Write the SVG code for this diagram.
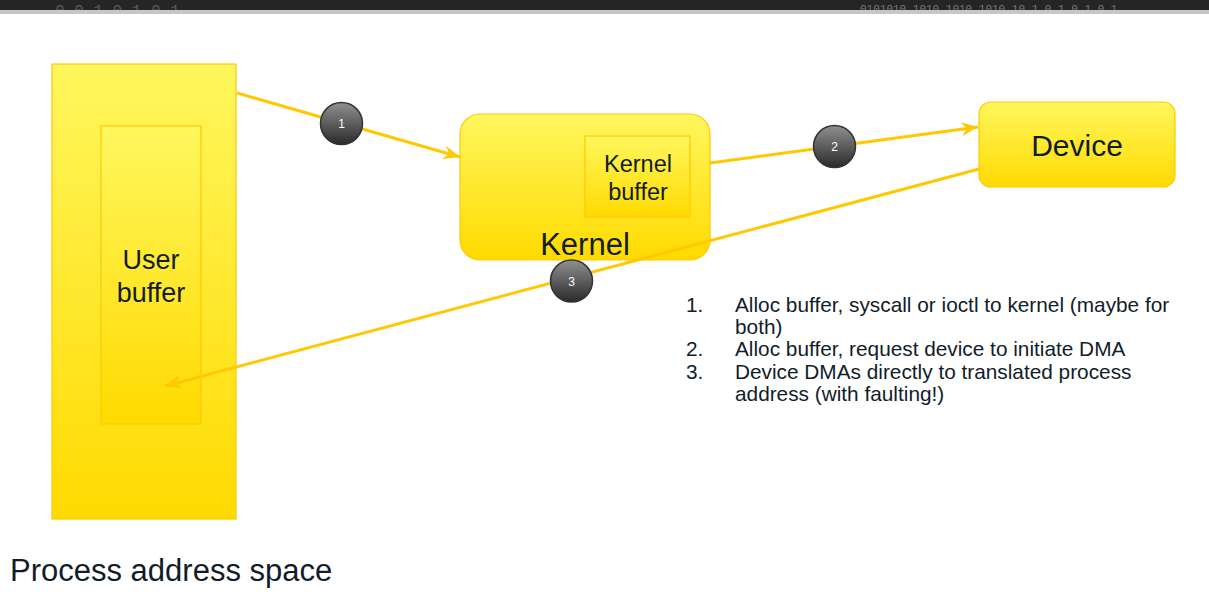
<svg xmlns="http://www.w3.org/2000/svg" width="1209" height="597" viewBox="0 0 1209 597">
  <defs>
    <linearGradient id="yel" x1="0" y1="0" x2="0" y2="1">
      <stop offset="0" stop-color="#FFF75E"/>
      <stop offset="1" stop-color="#FFDA00"/>
    </linearGradient>
    <linearGradient id="ball" x1="0" y1="0" x2="0" y2="1">
      <stop offset="0" stop-color="#909090"/>
      <stop offset="1" stop-color="#2A2A2A"/>
    </linearGradient>
    <marker id="arr" viewBox="0 0 12 10" refX="12" refY="5" markerWidth="18" markerHeight="14" markerUnits="userSpaceOnUse" orient="auto">
      <path d="M0,0 L12,5 L0,10 L4,5 Z" fill="#FFC800"/>
    </marker>
    <clipPath id="barclip"><rect x="0" y="0" width="1209" height="10"/></clipPath>
    <style>
      .box { fill: url(#yel); stroke: #FFC800; stroke-width: 1.2; }
      .lbl { font-family: "Liberation Sans", Arial, sans-serif; fill: #111D2A; text-anchor: middle; }
      .wire { stroke: #FFC800; stroke-width: 3; fill: none; marker-end: url(#arr); }
      .ball { fill: url(#ball); stroke: #333333; stroke-width: 1.5; }
      .num { font-family: "Liberation Sans", Arial, sans-serif; font-size: 12px; fill: #FFFFFF; text-anchor: middle; }
      .list { font-family: "Liberation Sans", Arial, sans-serif; font-size: 20.8px; fill: #111D2A; }
    </style>
  </defs>

  <rect x="0" y="0" width="1209" height="597" fill="#FFFFFF"/>

  <g id="header">
    <rect x="0" y="0" width="1209" height="10" fill="#252525"/>
    <rect x="0" y="10" width="1209" height="4" fill="#C6C6C6"/>
    <g clip-path="url(#barclip)" font-family="'Liberation Mono', monospace" fill="#5A5A5A">
      <text x="55" y="16" font-size="16">0  0  1  0  1  0  1</text>
      <text x="860" y="12" font-size="11" fill="#7A7A7A">0101010 1010 1010 1010 10 1 0 1 0 1 0 1</text>
    </g>
  </g>

  <g id="process">
    <rect class="box" x="52" y="64" width="184" height="455"/>
    <text class="lbl" x="10" y="581" font-size="31" style="text-anchor:start">Process address space</text>
  </g>

  <g id="user-buffer">
    <rect class="box" x="101" y="126" width="100" height="298"/>
    <text class="lbl" x="151" y="269" font-size="27">User</text>
    <text class="lbl" x="151" y="302" font-size="27">buffer</text>
  </g>

  <g id="kernel">
    <rect class="box" x="460" y="114" width="250" height="146" rx="20" ry="20"/>
    <text class="lbl" x="585" y="255" font-size="31">Kernel</text>
  </g>

  <g id="kernel-buffer">
    <rect class="box" x="585" y="136" width="105" height="81"/>
    <text class="lbl" x="638" y="172" font-size="23.5">Kernel</text>
    <text class="lbl" x="638" y="200" font-size="23.5">buffer</text>
  </g>

  <g id="device">
    <rect class="box" x="979" y="102" width="196" height="85" rx="12" ry="12"/>
    <text class="lbl" x="1077" y="156" font-size="30">Device</text>
  </g>

  <g id="connectors">
    <line class="wire" x1="237" y1="93" x2="460" y2="157"/>
    <line class="wire" x1="710" y1="163" x2="978" y2="127"/>
    <line class="wire" x1="979" y1="169" x2="165" y2="386"/>
  </g>

  <g id="step-1">
    <circle class="ball" cx="341.5" cy="123.5" r="21"/>
    <text class="num" x="341.5" y="128">1</text>
  </g>
  <g id="step-2">
    <circle class="ball" cx="834.5" cy="146.5" r="21"/>
    <text class="num" x="834.5" y="151">2</text>
  </g>
  <g id="step-3">
    <circle class="ball" cx="571.5" cy="281" r="21"/>
    <text class="num" x="571.5" y="285.5">3</text>
  </g>

  <g id="notes" class="list">
    <text x="686" y="312">1.</text>
    <text x="735" y="312">Alloc buffer, syscall or ioctl to kernel (maybe for</text>
    <text x="735" y="334">both)</text>
    <text x="686" y="356">2.</text>
    <text x="735" y="356">Alloc buffer, request device to initiate DMA</text>
    <text x="686" y="379">3.</text>
    <text x="735" y="379">Device DMAs directly to translated process</text>
    <text x="735" y="401">address (with faulting!)</text>
  </g>
</svg>
